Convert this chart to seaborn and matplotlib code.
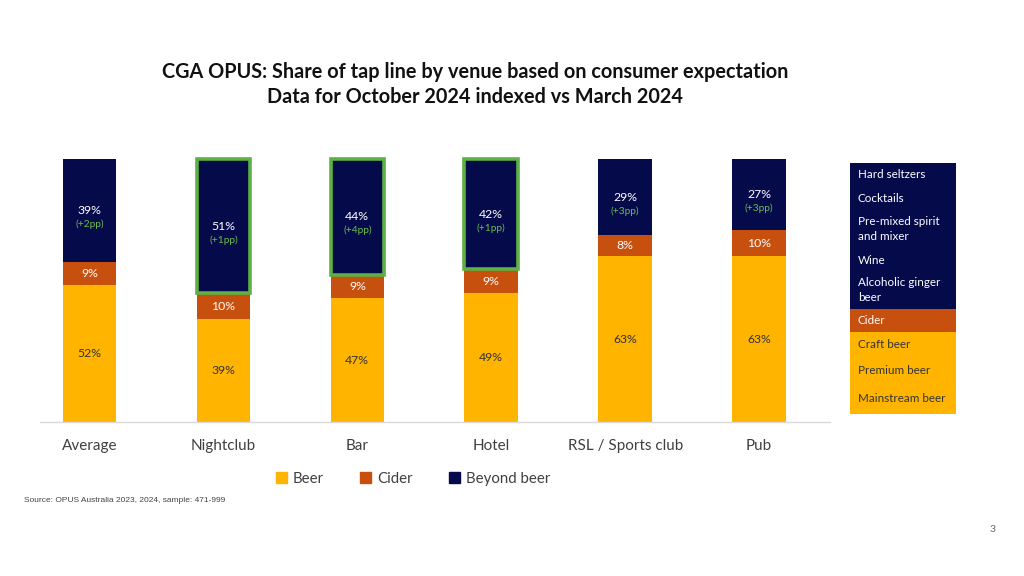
import pandas as pd
import matplotlib
matplotlib.use("Agg")
import matplotlib.pyplot as plt
from matplotlib.patches import Rectangle, Patch
import seaborn as sns

# data
venues = ["Average", "Nightclub", "Bar", "Hotel", "RSL / Sports club", "Pub"]
beer = [52, 39, 47, 49, 63, 63]
cider = [9, 10, 9, 9, 8, 10]
beyond = [39, 51, 44, 42, 29, 27]
change_pp = ["+2pp", "+1pp", "+4pp", "+1pp", "+3pp", "+3pp"]
highlight = ["Nightclub", "Bar", "Hotel"]

legend_beyond = ["Hard seltzers", "Cocktails", "Pre-mixed spirit\nand mixer", "Wine",
                 "Alcoholic ginger\nbeer"]
legend_cider = ["Cider"]
legend_beer = ["Craft beer", "Premium beer", "Mainstream beer"]

GOLD = "#FFB500"
ORANGE = "#C8500E"
NAVY = "#050A4B"
GREEN = "#5DB044"

sns.set_theme(style="white")
plt.rcParams["font.family"] = ["Lato", "DejaVu Sans"]

df = pd.DataFrame({"venue": venues, "beer": beer, "cider": cider, "beyond": beyond})
df["beer_cider"] = df["beer"] + df["cider"]
df["total"] = df["beer_cider"] + df["beyond"]

fig = plt.figure(figsize=(10.24, 5.76), dpi=100)
W, H = 1024, 576

def px_axes(x0, y0, x1, y1):
    return fig.add_axes([x0 / W, 1 - y1 / H, (x1 - x0) / W, (y1 - y0) / H])

ax = px_axes(40, 159, 830, 422)

# stacked bars drawn back to front
sns.barplot(data=df, x="venue", y="total", color=NAVY, width=0.4, saturation=1, ax=ax)
sns.barplot(data=df, x="venue", y="beer_cider", color=ORANGE, width=0.4, saturation=1, ax=ax)
sns.barplot(data=df, x="venue", y="beer", color=GOLD, width=0.4, saturation=1, ax=ax)
for p in ax.patches:
    p.set_linewidth(0)

ax.set_xlim(-0.37, 5.53)
ax.set_ylim(0, 100)
ax.set_xlabel("")
ax.set_ylabel("")
ax.set_yticks([])
ax.tick_params(axis="x", length=0, pad=12, labelsize=11, labelcolor="#404040")
for s in ["top", "left", "right"]:
    ax.spines[s].set_visible(False)
ax.spines["bottom"].set_color("#D9D9D9")
ax.spines["bottom"].set_linewidth(1)

navy_bars = ax.patches[:len(venues)]
for i, v in enumerate(venues):
    b, c, o = beer[i], cider[i], beyond[i]
    ax.text(i, b / 2, f"{b}%", ha="center", va="center", fontsize=8.8, color="#333333")
    ax.text(i, b + c / 2, f"{c}%", ha="center", va="center", fontsize=8.8, color="white")
    mid = b + c + o / 2
    ax.text(i, mid, f"{o}%", ha="center", va="center", fontsize=8.8, color="white")
    ax.text(i, mid - 5.2, f"({change_pp[i]})", ha="center", va="center", fontsize=7.3, color="#6DBE4F")
    if v in highlight:
        p = navy_bars[i]
        ax.add_patch(Rectangle((p.get_x(), b + c), p.get_width(), o, fill=False,
                               edgecolor=GREEN, linewidth=2.6, clip_on=False, zorder=5))

# bottom legend
handles = [Patch(color=GOLD, label="Beer"), Patch(color=ORANGE, label="Cider"),
           Patch(color=NAVY, label="Beyond beer")]
fig.legend(handles=handles, loc="center", bbox_to_anchor=(413 / W, 1 - 479 / H), ncol=3,
           frameon=False, fontsize=10.8, handlelength=0.75, handleheight=0.75,
           handletextpad=0.4, columnspacing=2.4, labelcolor="#404040")

# right-hand breakdown key
lg = px_axes(850, 163, 956, 414)
lg.set_xlim(0, 106)
lg.set_ylim(414, 163)
lg.axis("off")
lg.axhspan(163, 309, color=NAVY, lw=0)
lg.axhspan(309, 332, color=ORANGE, lw=0)
lg.axhspan(332, 414, color=GOLD, lw=0)
beyond_y = [175, 198, 229, 260, 290]
for name, y in zip(legend_beyond, beyond_y):
    lg.text(8, y, name, color="white", fontsize=8.4, va="center", linespacing=1.35)
lg.text(8, 320, legend_cider[0], color="white", fontsize=8.4, va="center")
for name, y in zip(legend_beer, [344, 371, 399]):
    lg.text(8, y, name, color="#333333", fontsize=8.4, va="center")

# titles and footnotes
fig.text(475 / W, 1 - 72 / H, "CGA OPUS: Share of tap line by venue based on consumer expectation",
         ha="center", va="center", fontsize=14.3, fontweight="bold", color="#111111")
fig.text(475 / W, 1 - 97 / H, "Data for October 2024 indexed vs March 2024",
         ha="center", va="center", fontsize=14.3, fontweight="bold", color="#111111")
fig.text(24 / W, 1 - 501 / H, "Source: OPUS Australia 2023, 2024, sample: 471-999",
         ha="left", va="center", fontsize=6, color="#444444", family=["Liberation Sans", "DejaVu Sans"])
fig.text(993 / W, 1 - 530 / H, "3", ha="center", va="center", fontsize=7.5, color="#666666")

fig.savefig("out.png", dpi=100, facecolor="white")
